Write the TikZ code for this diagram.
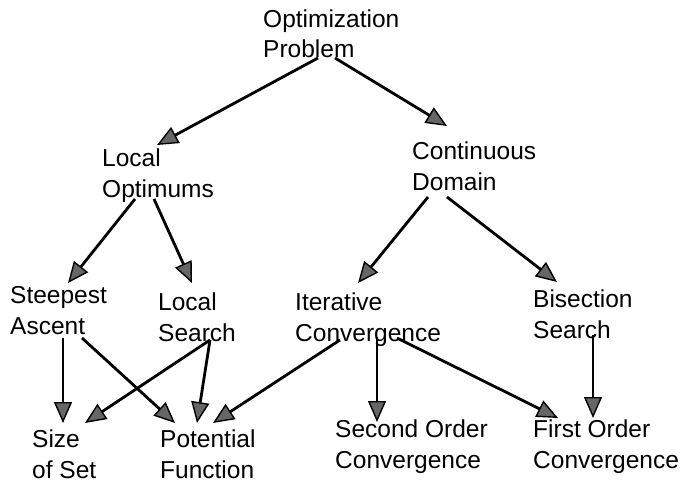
\documentclass[tikz,border=0pt]{standalone}
\usepackage{fontspec}
\setmainfont{Liberation Sans}
\usetikzlibrary{arrows.meta,calc}
\begin{document}
\begin{tikzpicture}[x=1pt, y=-1pt,
    lbl/.style={anchor=base west, inner sep=0pt, align=left, font=\fontsize{24.5}{30.5}\selectfont},
    arr/.style={line width=2.8pt, -{Triangle[length=21pt, width=18pt, fill=black!60, line width=1.4pt]}}]
  \useasboundingbox (0, 0) rectangle (682, 487);

  % levels of the tree (placed at the baseline of the last line)
  \node[lbl] (opt) at (263, 58) {Optimization\\Problem};
  \node[lbl] (lopt) at (102, 197) {Local\\Optimums};
  \node[lbl] (cont) at (412, 190) {Continuous\\Domain};
  \node[lbl] (steep) at (10, 334) {Steepest\\Ascent};
  \node[lbl] (lsearch) at (158, 341) {Local\\Search};
  \node[lbl] (iter) at (295, 341) {Iterative\\Convergence};
  \node[lbl] (bis) at (533, 338) {Bisection\\Search};
  \node[lbl] (size) at (32, 478) {Size\\of Set};
  \node[lbl] (pot) at (160, 478) {Potential\\Function};
  \node[lbl] (second) at (335, 468) {Second Order\\Convergence};
  \node[lbl] (first) at (533, 468) {First Order\\Convergence};

  % arrows
  \draw[arr] ($(opt.base west)+(55, 0)$) -- ($(lopt.base west)+(55, -52)$);
  \draw[arr] ($(opt.base west)+(72, 0)$) -- ($(cont.base west)+(35, -64)$);
  \draw[arr] ($(lopt.base west)+(33, 2)$) -- ($(steep.base west)+(58, -51)$);
  \draw[arr] ($(lopt.base west)+(52, 2)$) -- ($(lsearch.base west)+(34, -58)$);
  \draw[arr] ($(cont.base west)+(16, 7)$) -- ($(iter.base west)+(63, -58)$);
  \draw[arr] ($(cont.base west)+(35, 7)$) -- ($(bis.base west)+(24, -56)$);
  \draw[arr] ($(steep.base west)+(53, 4)$) -- ($(size.base west)+(31, -55)$);
  \draw[arr] ($(steep.base west)+(72, 4)$) -- ($(pot.base west)+(15, -55)$);
  \draw[arr] ($(lsearch.base west)+(52, -1)$) -- ($(size.base west)+(53, -55)$);
  \draw[arr] ($(lsearch.base west)+(52, -1)$) -- ($(pot.base west)+(37, -55)$);
  \draw[arr] ($(iter.base west)+(45, -1)$) -- ($(pot.base west)+(53, -55)$);
  \draw[arr] ($(iter.base west)+(82, -4)$) -- ($(second.base west)+(42, -46)$);
  \draw[arr] ($(iter.base west)+(102, -3)$) -- ($(first.base west)+(25, -50)$);
  \draw[arr] ($(bis.base west)+(60, -3)$) -- ($(first.base west)+(60, -50)$);
\end{tikzpicture}
\end{document}
